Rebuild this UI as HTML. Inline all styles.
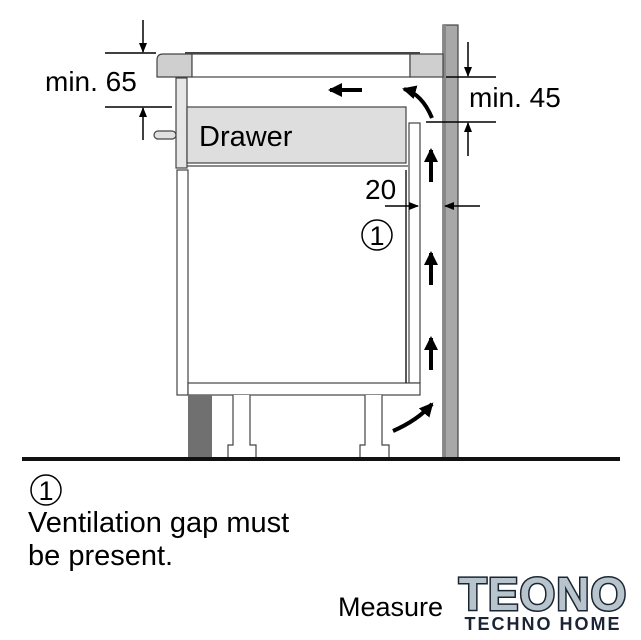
<!DOCTYPE html>
<html><head><meta charset="utf-8"><style>
body{margin:0;background:#fff;}
svg{display:block;font-family:"Liberation Sans",Arial,sans-serif;}
</style></head><body>
<svg width="641" height="640" viewBox="0 0 641 640" xmlns="http://www.w3.org/2000/svg">
<defs>
<marker id="ah" markerWidth="10" markerHeight="8" refX="9" refY="4" orient="auto" markerUnits="userSpaceOnUse"><path d="M0,0 L10,4 L0,8 z" fill="#000"/></marker>
<marker id="ahb" markerWidth="14" markerHeight="14" refX="12" refY="7" orient="auto" markerUnits="userSpaceOnUse"><path d="M0,0 L14,7 L0,14 z" fill="#000"/></marker>
</defs>
<rect x="443" y="25" width="15" height="435" fill="#a8a8a8" stroke="#444" stroke-width="1.2"/>
<rect x="443" y="25" width="3" height="435" fill="#888"/>
<line x1="185" y1="53" x2="420" y2="53" stroke="#444" stroke-width="2"/>
<path d="M163,54 L192,54 L192,77 L157,77 L157,60 Q157,54 163,54 z" fill="#cfcfcf" stroke="#444" stroke-width="1.2"/>
<rect x="192" y="54" width="218" height="23" fill="#fff" stroke="#444" stroke-width="1.2"/>
<rect x="410" y="54" width="33" height="23" fill="#cfcfcf" stroke="#444" stroke-width="1.2"/>
<rect x="176" y="78" width="11" height="90" fill="#e6e6e6" stroke="#444" stroke-width="1.2"/>
<rect x="154" y="131" width="22" height="8" rx="4" fill="#e0e0e0" stroke="#444" stroke-width="1.2"/>
<rect x="187" y="107" width="219" height="56" fill="#dedede" stroke="#444" stroke-width="1.2"/>
<text x="199" y="146" font-size="29">Drawer</text>
<line x1="187" y1="166" x2="408" y2="166" stroke="#444" stroke-width="1.2"/>
<rect x="409" y="123" width="11" height="260" fill="#fff" stroke="#444" stroke-width="1.2"/>
<rect x="177" y="170" width="11" height="225" fill="#fff" stroke="#444" stroke-width="1.2"/>
<rect x="188" y="383" width="232" height="12" fill="#fff" stroke="#444" stroke-width="1.2"/>
<line x1="406" y1="170" x2="406" y2="383" stroke="#222" stroke-width="1.5"/>
<rect x="188" y="395" width="24" height="63" fill="#707070"/>
<path d="M233,395 V445 H228 V458 H256 V445 H250 V395" fill="#fff" stroke="#444" stroke-width="1.2"/>
<path d="M365,395 V445 H360 V458 H389 V445 H382 V395" fill="#fff" stroke="#444" stroke-width="1.2"/>
<rect x="22" y="457" width="598" height="4" fill="#111"/>
<g stroke="#000" stroke-width="4" fill="none">
<line x1="431" y1="182" x2="431" y2="150" marker-end="url(#ahb)"/>
<line x1="431" y1="285" x2="431" y2="253" marker-end="url(#ahb)"/>
<line x1="431" y1="370" x2="431" y2="338" marker-end="url(#ahb)"/>
<line x1="362" y1="90" x2="330" y2="90" marker-end="url(#ahb)"/>
<path d="M432,118 Q422,94 404,89" marker-end="url(#ahb)"/>
<path d="M393,431 Q418,420 432,404" marker-end="url(#ahb)"/>
</g>
<g stroke="#000" stroke-width="1.5" fill="none">
<line x1="105" y1="53" x2="156" y2="53"/>
<line x1="105" y1="107" x2="172" y2="107"/>
<line x1="143" y1="20" x2="143" y2="52" marker-end="url(#ah)"/>
<line x1="143" y1="140" x2="143" y2="108" marker-end="url(#ah)"/>
<line x1="446" y1="77" x2="496" y2="77"/>
<line x1="426" y1="122" x2="496" y2="122"/>
<line x1="468" y1="42" x2="468" y2="76" marker-end="url(#ah)"/>
<line x1="468" y1="156" x2="468" y2="123" marker-end="url(#ah)"/>
<line x1="385" y1="206" x2="418" y2="206" marker-end="url(#ah)"/>
<line x1="480" y1="206" x2="445" y2="206" marker-end="url(#ah)"/>
</g>
<text x="45" y="91" font-size="28">min. 65</text>
<text x="469" y="107" font-size="28">min. 45</text>
<text x="365" y="199" font-size="28">20</text>
<circle cx="377" cy="235" r="15" fill="none" stroke="#000" stroke-width="1.5"/>
<text x="377" y="245" font-size="27" text-anchor="middle">1</text>
<circle cx="46" cy="490" r="15" fill="none" stroke="#000" stroke-width="1.5"/>
<text x="46" y="500" font-size="27" text-anchor="middle">1</text>
<text x="28" y="532" font-size="29">Ventilation gap must</text>
<text x="28" y="565" font-size="29">be present.</text>
<text x="338" y="616" font-size="27">Measure</text>
<rect x="448" y="572" width="193" height="68" fill="#fff"/>
<text x="543" y="610" font-size="46" font-weight="bold" text-anchor="middle" fill="#b8c4cc" stroke="#1a2433" stroke-width="3" paint-order="stroke" letter-spacing="1">TEONO</text>
<text x="543" y="630" font-size="18" font-weight="bold" text-anchor="middle" fill="#1a2433" letter-spacing="2">TECHNO HOME</text>
</svg>
</body></html>
